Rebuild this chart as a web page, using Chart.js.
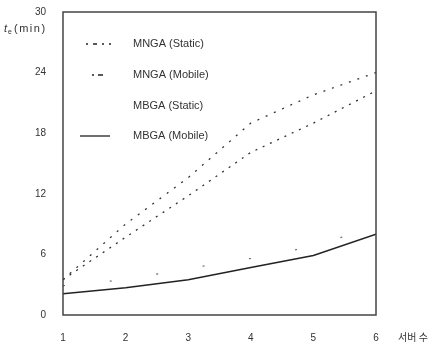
<!DOCTYPE html>
<html>
<head>
<meta charset="utf-8">
<script src="https://cdn.jsdelivr.net/npm/chart.js@4/dist/chart.umd.min.js"></script>
<style>
    body { margin: 0; background: #fff; }
    #box { width: 430px; height: 344px; }
</style>
</head>
<body>
<div id="box"><canvas id="myChart"></canvas></div>
<script>
// 서버 수 (number of servers)
const servers = [1, 2, 3, 4, 5, 6]
const yTicks = [0, 6, 12, 18, 24, 30]

const mngaStatic = [3.5, 9.0, 13.6, 19.0, 21.8, 24.0]
const mngaMobile = [3.5, 7.7, 11.8, 16.1, 19.0, 22.2]
const mbgaStatic = [2.9, 3.5, 4.6, 5.6, 6.8, 8.8]
const mbgaMobile = [2.1, 2.7, 3.5, 4.7, 5.9, 8.0]

const labels = ["MNGA (Static)", "MNGA (Mobile)", "MBGA (Static)", "MBGA (Mobile)"]

function toPoints(values) {
    return values.map((v, i) => ({ x: servers[i], y: v }))
}

const ink = '#333'

// frame, legend and axis titles
const paperPlugin = {
    id: 'paper',
    afterDraw(chart) {
        const c = chart.ctx
        const a = chart.chartArea
        c.save()
        c.strokeStyle = '#444'
        c.lineWidth = 1.5
        c.strokeRect(a.left, a.top, a.right - a.left, a.bottom - a.top)

        // legend inside the plot
        const rows = [32, 63, 94, 124]
        const samples = [
            { from: 23, to: 48, dash: [2, 5, 4, 5] },
            { from: 29, to: 41, dash: [2, 4, 5, 100] },
            null,
            { from: 17, to: 47, dash: [] }
        ]
        c.font = '11px "Liberation Sans", Arial, sans-serif'
        c.fillStyle = ink
        c.textBaseline = 'middle'
        for (let i = 0; i < labels.length; i++) {
            const y = a.top + rows[i]
            const s = samples[i]
            if (s) {
                c.beginPath()
                c.setLineDash(s.dash)
                c.lineWidth = 1.3
                c.strokeStyle = '#222'
                c.moveTo(a.left + s.from, y)
                c.lineTo(a.left + s.to, y)
                c.stroke()
            }
            c.setLineDash([])
            c.fillText(labels[i], a.left + 70, y)
        }

        // y title: t_e(min)
        c.textBaseline = 'middle'
        c.font = 'italic 11px "Liberation Sans", Arial, sans-serif'
        c.fillText('t', 4, 29)
        c.font = '7px "Liberation Sans", Arial, sans-serif'
        c.fillText('e', 8, 32)
        c.font = '11px "Liberation Sans", Arial, sans-serif'
        c.letterSpacing = '1.5px'
        c.fillText('(min)', 14, 29)
        c.letterSpacing = '0px'

        // x title
        c.font = '10px "Noto Sans CJK KR", sans-serif'
        c.fillText('서버 수', a.right + 22, a.bottom + 22)
        c.restore()
    }
}

const ctx = document.getElementById('myChart')

new Chart(ctx, {
    type: 'line',
    data: {
        datasets: [
            {
                label: labels[0],
                data: toPoints(mngaStatic),
                borderColor: '#333',
                borderWidth: 1.3,
                borderDash: [2, 7],
                pointRadius: 0
            },
            {
                label: labels[1],
                data: toPoints(mngaMobile),
                borderColor: '#333',
                borderWidth: 1.3,
                borderDash: [2, 6],
                pointRadius: 0
            },
            {
                label: labels[2],
                data: toPoints(mbgaStatic),
                borderColor: '#666',
                borderWidth: 1.2,
                borderDash: [2, 45],
                pointRadius: 0
            },
            {
                label: labels[3],
                data: toPoints(mbgaMobile),
                borderColor: '#222',
                borderWidth: 1.5,
                pointRadius: 0
            }
        ]
    },
    options: {
        responsive: true,
        maintainAspectRatio: false,
        animation: false,
        layout: { padding: { top: 12, right: 54, left: 0, bottom: 0 } },
        plugins: {
            legend: { display: false },
            tooltip: { enabled: false }
        },
        scales: {
            x: {
                type: 'linear',
                min: servers[0],
                max: servers[servers.length - 1],
                afterFit: s => { s.height = 29 },
                grid: { display: false, drawTicks: false },
                border: { display: false },
                ticks: {
                    stepSize: 1,
                    padding: 17,
                    color: ink,
                    font: { family: '"Liberation Sans", Arial, sans-serif', size: 10 }
                }
            },
            y: {
                min: yTicks[0],
                max: yTicks[yTicks.length - 1],
                afterFit: s => {
                    s.width = 63
                    s.paddingTop = 0
                    s.paddingBottom = 0
                },
                afterBuildTicks: s => { s.ticks = yTicks.map(v => ({ value: v })) },
                grid: { display: false, drawTicks: false },
                border: { display: false },
                ticks: {
                    padding: 17,
                    color: ink,
                    font: { family: '"Liberation Sans", Arial, sans-serif', size: 10 }
                }
            }
        }
    },
    plugins: [paperPlugin]
})
</script>
</body>
</html>
